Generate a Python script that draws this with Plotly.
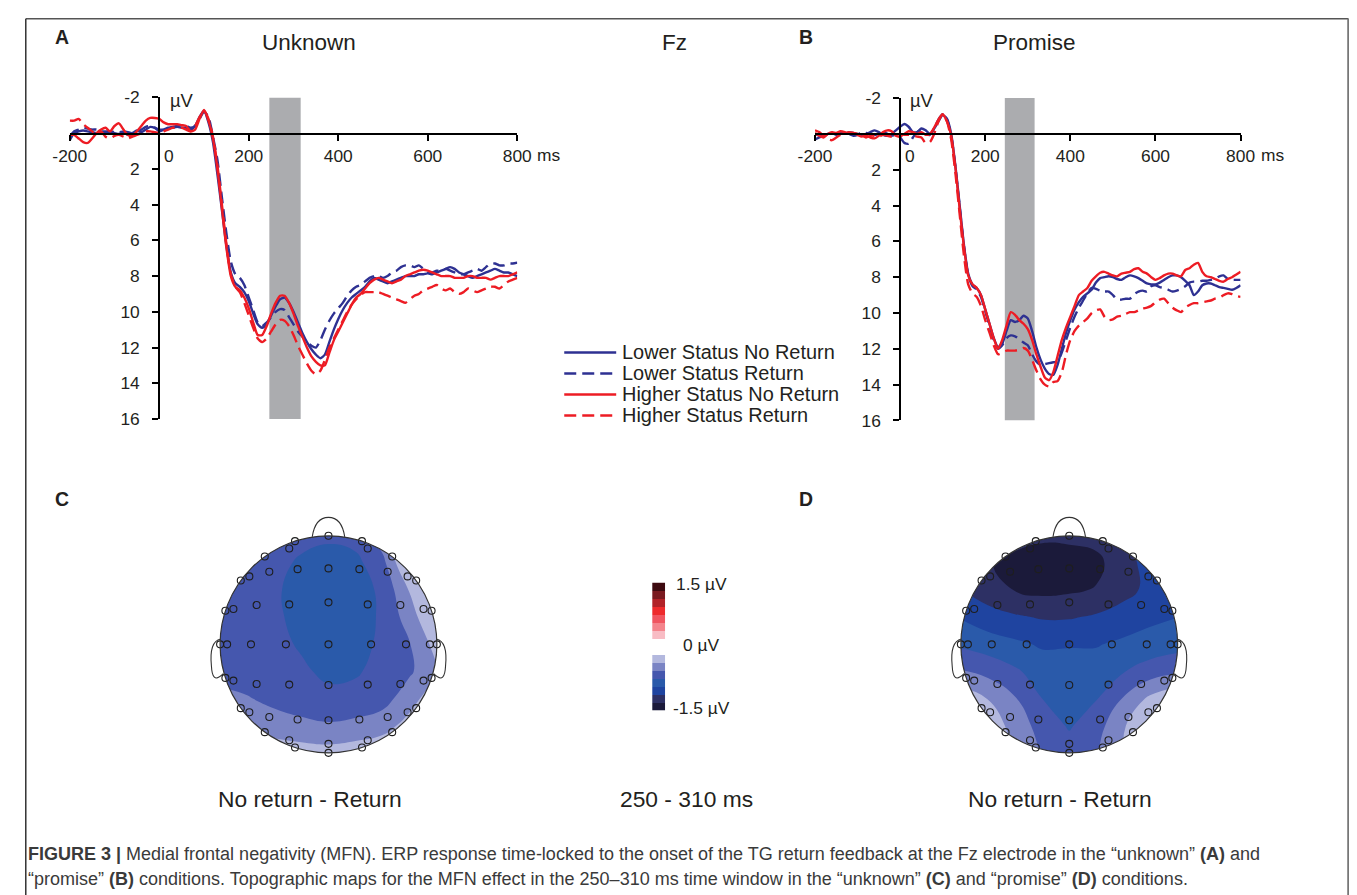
import numpy as np
import plotly.graph_objects as go

# Page placement: the figure sits inside an 8 px body margin and the capture is
# scaled by ~0.9775 with a small offset; target pixel T maps to figure pixel
# (T - B) / S - 8.  All positions below are given in target (reference) pixels.
S = 0.9775
BX, BY = 16.4, 8.8
OFF = 8
W, H = 1364, 899
def fx(t):
    return ((t - BX) / S - OFF) / W
def fy(t):
    return 1 - ((t - BY) / S - OFF) / H
def fs(size):
    return round(size / S, 2)

FONT = "Liberation Sans, Arial, Helvetica, sans-serif"
INK = "#231F20"
BLUE = "#2E3192"
RED = "#ED1C24"

# ---------------- ERP data (Fz, µV; positive plotted downward) ----------------
time_ms = list(range(-200, 801, 10))

a_lower_noreturn = [0.4, 0.0, -0.1, -0.15, -0.1, -0.05, 0.0, -0.05, 0.0, -0.05,
                    0.0, 0.05, -0.05, 0.1, 0.0, -0.15, -0.05, -0.2, -0.35, -0.3,
                    -0.2, -0.2, -0.3, -0.3, -0.35, -0.3, -0.3, -0.2, -0.4, -0.9,
                    -1.25, -0.6,
                    0.5, 2.3, 4.3, 6.3, 7.8, 8.4, 8.6, 8.9, 9.4,
                    10.1, 10.7, 10.9, 10.7, 10.2, 9.7, 9.3, 9.2, 9.5, 10.0,
                    10.6, 11.2, 11.7, 12.1, 12.4, 12.6, 12.4, 11.7, 11.0, 10.4,
                    9.9, 9.5, 9.2, 9.0, 8.8, 8.6, 8.3, 8.1, 8.2, 8.3,
                    8.4, 8.3, 8.2, 8.1, 8.0, 8.0, 8.0, 7.9, 7.9, 7.85,
                    7.9, 7.8, 7.7, 7.6, 7.5, 7.6, 7.8, 7.9, 8.0, 8.1,
                    8.0, 7.9, 7.8, 7.7, 7.6, 7.7, 7.8, 7.8, 7.9, 8.0]
a_lower_return = [0.2, -0.1, -0.2, -0.3, -0.25, -0.2, -0.2, -0.1, -0.1, -0.1,
                  -0.05, -0.05, -0.1, -0.05, 0.0, -0.1, -0.2, -0.35, -0.4, -0.3,
                  -0.1, -0.2, -0.3, -0.35, -0.4, -0.45, -0.4, -0.3, -0.4, -0.8,
                  -1.2, -0.9,
                  0.2, 1.5, 3.6, 5.6, 7.2, 7.9, 8.1, 8.5, 9.2,
                  9.9, 10.6, 10.8, 10.6, 10.3, 10.0, 9.85, 9.9, 10.3, 10.7,
                  11.1, 11.4, 11.7, 11.9, 12.0, 11.6, 11.0, 10.5, 10.1, 9.8,
                  9.5, 9.1, 8.8, 8.6, 8.5, 8.3, 8.1, 8.0, 8.0, 8.1,
                  8.0, 7.8, 7.7, 7.5, 7.4, 7.4, 7.5, 7.4, 7.6, 7.8,
                  7.8, 7.7, 7.7, 7.6, 7.7, 7.8, 7.9, 7.9, 7.8, 7.7,
                  7.6, 7.7, 7.5, 7.3, 7.3, 7.4, 7.4, 7.3, 7.3, 7.25]
a_higher_noreturn = [0.1, 0.1, 0.3, 0.5, 0.55, 0.3, 0.0, -0.2, -0.3, -0.1,
                     -0.4, -0.55, -0.2, 0.1, 0.15, -0.1, -0.4, -0.7, -0.85, -0.85,
                     -0.8, -0.6, -0.5, -0.5, -0.5, -0.45, -0.4, -0.1, -0.2, -0.8,
                     -1.3, -0.7,
                     0.3, 2.0, 4.2, 6.4, 8.0, 8.6, 8.8, 9.2, 9.8,
                     10.6, 11.3, 11.3, 10.8, 10.1, 9.5, 9.1, 9.1, 9.5, 10.1,
                     10.8, 11.4, 12.0, 12.5, 12.8, 13.0, 13.0, 12.3, 11.6, 11.1,
                     10.6, 10.1, 9.6, 9.2, 9.0, 8.7, 8.4, 8.2, 8.1, 8.2,
                     8.3, 8.4, 8.3, 8.2, 8.0, 7.9, 7.8, 7.7, 7.65, 7.7,
                     7.8, 7.9, 8.0, 8.0, 8.0, 8.1, 8.1, 8.1, 8.0, 8.0,
                     8.1, 8.1, 8.1, 8.2, 8.1, 8.0, 8.0, 8.0, 7.9, 7.8]
a_higher_return = [-0.7, -0.7, -0.8, -0.5, -0.3, -0.1, 0.1, -0.1, 0.2, 0.3,
                   0.15, 0.1, 0.2, 0.3, 0.2, 0.1, 0.0, -0.1, -0.1, -0.05,
                   0.0, -0.1, -0.2, -0.3, -0.3, -0.3, -0.2, -0.1, -0.4, -0.9,
                   -1.25, -0.8,
                   0.2, 1.8, 4.0, 6.2, 7.9, 8.6, 8.9, 9.5, 10.2,
                   10.9, 11.5, 11.7, 11.5, 11.1, 10.7, 10.45, 10.5, 10.8, 11.3,
                   11.9, 12.4, 12.9, 13.3, 13.5, 13.3, 12.7, 12.0, 11.5, 11.0,
                   10.5, 10.0, 9.6, 9.3, 9.05, 8.9, 8.9, 8.9, 8.9, 9.0,
                   9.1, 9.2, 9.3, 9.4, 9.5, 9.3, 9.1, 9.0, 8.8, 8.7,
                   8.6, 8.5, 8.7, 8.8, 8.7, 8.9, 9.0, 8.9, 8.7, 8.8,
                   8.9, 8.8, 8.7, 8.6, 8.6, 8.7, 8.5, 8.3, 8.2, 8.1]

b_lower_noreturn = [0.3, 0.2, 0.1, 0.0, -0.05, 0.0, -0.05, 0.0, -0.1, -0.05,
                    0.0, 0.05, 0.0, -0.1, -0.2, -0.1, 0.05, 0.1, 0.0, -0.2,
                    -0.4, -0.55, -0.4, -0.1, -0.1, -0.3, -0.2, 0.0, -0.3, -0.7,
                    -1.05, -0.85,
                    0.0, 1.8, 4.0, 6.2, 7.8, 8.4, 8.6, 9.0, 9.8,
                    10.6, 11.4, 11.9, 11.7, 11.0, 10.4, 10.5, 10.4, 10.15, 10.3,
                    11.0, 11.9, 12.6, 13.1, 13.4, 13.45, 12.9, 12.0, 11.1, 10.4,
                    9.8, 9.4, 9.1, 8.9, 8.7, 8.3, 8.05, 8.0, 7.95, 8.0,
                    8.1, 8.15, 8.0, 7.9, 7.95, 8.05, 8.2, 8.35, 8.4, 8.4,
                    8.3, 8.15, 8.0, 7.9, 7.9, 8.0, 8.2, 8.45, 9.0, 8.8,
                    8.45, 8.35, 8.35, 8.45, 8.55, 8.6, 8.65, 8.7, 8.6, 8.45]
b_lower_return = [0.0, 0.1, 0.15, 0.0, -0.05, 0.05, 0.0, -0.05, 0.0, 0.1,
                  0.05, -0.1, -0.05, 0.0, 0.05, 0.0, -0.1, 0.0, 0.1, 0.05,
                  0.2, 0.5, 0.55, 0.2, -0.1, -0.2, 0.0, 0.05, -0.3, -0.8,
                  -1.1, -0.8,
                  0.1, 1.9, 4.1, 6.3, 7.9, 8.5, 8.7, 9.1, 9.9,
                  10.7, 11.5, 12.0, 11.8, 11.4, 11.25, 11.3, 11.45, 11.65, 11.8,
                  12.3, 12.7, 12.9, 12.85, 12.8, 12.75, 12.7, 12.2, 11.5, 10.8,
                  10.2, 9.7, 9.3, 8.9, 8.6, 8.65, 8.75, 8.8, 8.8, 9.0,
                  9.25, 9.25, 9.2, 9.2, 8.95, 8.8, 8.75, 8.8, 8.5, 8.45,
                  8.55, 8.6, 8.7, 8.8, 8.75, 8.65, 8.5, 8.3, 8.25, 8.25,
                  8.2, 8.2, 8.15, 8.1, 7.95, 7.9, 8.1, 8.15, 8.15, 8.15]
b_higher_noreturn = [-0.05, 0.1, 0.2, 0.0, -0.1, -0.05, -0.15, -0.1, 0.0, -0.05,
                     0.05, 0.15, 0.1, 0.2, 0.25, 0.1, -0.1, -0.2, -0.15, 0.1,
                     0.15, 0.0, -0.15, -0.1, 0.0, -0.1, 0.05, 0.0, -0.35, -0.8,
                     -1.1, -0.7,
                     0.1, 1.9, 4.2, 6.3, 7.9, 8.4, 8.6, 9.0, 9.8,
                     10.6, 11.4, 12.0, 11.5, 10.7, 9.95, 10.1, 10.4, 10.6, 10.9,
                     11.5, 12.3, 13.0, 13.6, 13.75, 13.3, 12.4, 11.5, 10.8, 10.2,
                     9.6, 9.0, 8.8, 8.6, 8.2, 7.95, 7.75, 7.7, 7.8, 7.9,
                     7.95, 7.8, 7.75, 7.7, 7.55, 7.5, 7.7, 7.8, 8.0, 8.15,
                     8.05, 7.9, 7.8, 7.8, 7.9, 7.95, 7.6, 7.5, 7.3, 7.2,
                     7.7, 7.95, 8.0, 8.1, 8.2, 8.25, 8.1, 8.0, 7.85, 7.7]
b_higher_return = [-0.2, -0.1, 0.1, 0.3, 0.35, 0.2, 0.05, 0.0, -0.1, -0.05,
                   0.0, 0.05, 0.2, 0.1, 0.1, 0.15, 0.05, 0.1, 0.15, 0.05,
                   0.0, 0.05, 0.05, 0.1, 0.15, 0.2, 0.5, 0.45, 0.0, -0.7,
                   -1.1, -0.7,
                   0.3, 2.2, 4.5, 6.8, 8.4, 8.9, 9.1, 9.6, 10.4,
                   11.1, 11.8, 12.3, 12.2, 12.1, 12.1, 12.1, 12.05, 11.95, 12.1,
                   12.6, 13.2, 13.7, 14.0, 14.1, 13.85, 13.8, 13.3, 12.3, 11.5,
                   11.0, 10.7, 10.5, 10.3, 10.0, 9.85, 9.8, 10.2, 10.4, 10.35,
                   10.2, 10.15, 10.05, 9.95, 9.95, 9.85, 9.75, 9.7, 9.6, 9.4,
                   9.25, 9.2, 9.45, 9.7, 9.85, 9.95, 9.7, 9.55, 9.45, 9.45,
                   9.4, 9.35, 9.3, 9.2, 9.15, 9.0, 8.9, 8.95, 9.05, 9.1]

series_names = ["Lower Status No Return", "Lower Status Return",
                "Higher Status No Return", "Higher Status Return"]
series_colors = [BLUE, BLUE, RED, RED]
series_dash = ["solid", "12px,6px", "solid", "12px,6px"]
panel_a = [a_lower_noreturn, a_lower_return, a_higher_noreturn, a_higher_return]
panel_b = [b_lower_noreturn, b_lower_return, b_higher_noreturn, b_higher_return]
for s in panel_a + panel_b:
    assert len(s) == len(time_ms), len(s)

mfn_window_ms = [246, 316]
x_tickvals = [-200, 0, 200, 400, 600, 800]
x_ticktext = ["-200", "\u00a0\u00a0\u00a0\u00a00", "200", "400", "600", "800"]
y_tickvals = [-2, 2, 4, 6, 8, 10, 12, 14, 16]
y_ticktext = ["-2", "2", "4", "6", "8", "10", "12", "14", "16"]

# ---------------- Topographic maps (µV, No return - Return, 250-310 ms) ----------------
grid_pos = [-1.0, -0.75, -0.5, -0.25, 0.0, 0.25, 0.5, 0.75, 1.0]
# rows from bottom (y=-1, posterior) to top (y=1, frontal)
topo_unknown = [
    [-0.20, -0.22, -0.25, -0.28, -0.30, -0.27, -0.23, -0.15, -0.05],
    [-0.40, -0.43, -0.48, -0.52, -0.54, -0.51, -0.45, -0.30, -0.15],
    [-0.52, -0.55, -0.61, -0.65, -0.70, -0.69, -0.64, -0.45, -0.25],
    [-0.62, -0.65, -0.68, -0.72, -0.79, -0.77, -0.69, -0.59, -0.40],
    [-0.64, -0.67, -0.70, -0.77, -0.84, -0.82, -0.71, -0.57, -0.30],
    [-0.66, -0.68, -0.72, -0.80, -0.85, -0.84, -0.72, -0.47, -0.15],
    [-0.66, -0.68, -0.73, -0.80, -0.85, -0.84, -0.71, -0.36, -0.08],
    [-0.66, -0.67, -0.71, -0.77, -0.82, -0.80, -0.62, -0.12, -0.02],
    [-0.66, -0.67, -0.69, -0.71, -0.72, -0.68, -0.45, -0.10, -0.02],
]
topo_promise = [
    [-0.10, -0.20, -0.40, -0.58, -0.66, -0.58, -0.38, -0.10, -0.02],
    [-0.15, -0.25, -0.45, -0.64, -0.77, -0.64, -0.40, -0.12, -0.05],
    [-0.25, -0.38, -0.55, -0.75, -0.86, -0.76, -0.55, -0.33, -0.20],
    [-0.55, -0.62, -0.72, -0.84, -0.86, -0.85, -0.76, -0.66, -0.60],
    [-0.78, -0.84, -0.90, -0.96, -0.95, -0.95, -0.90, -0.86, -0.82],
    [-0.95, -1.05, -1.10, -1.14, -1.14, -1.10, -1.05, -0.98, -0.94],
    [-1.12, -1.22, -1.32, -1.36, -1.34, -1.30, -1.18, -1.08, -1.00],
    [-1.22, -1.30, -1.36, -1.40, -1.38, -1.36, -1.20, -1.05, -0.95],
    [-1.15, -1.20, -1.25, -1.28, -1.28, -1.25, -1.15, -1.00, -0.90],
]

# electrode layout (normalised head coordinates)
outer_ring_deg = list(range(0, 360, 18))
inner_x = [-0.935, -0.715, -0.393, 0.0, 0.393, 0.715, 0.935,
           -0.877, -0.663, -0.362, 0.0, 0.362, 0.663, 0.877,
           -0.877, -0.663, -0.362, 0.0, 0.362, 0.663, 0.877,
           -0.73, -0.546, -0.285, 0.0, 0.285, 0.546, 0.73,
           -0.73, -0.546, -0.285, 0.0, 0.285, 0.546, 0.73,
           -0.362, 0.362, -0.362, 0.362, 0.0]
inner_y = [0.0] * 7 + \
          [0.325, 0.362, 0.368, 0.387, 0.368, 0.362, 0.325] + \
          [-0.334, -0.365, -0.371, -0.374, -0.371, -0.365, -0.334] + \
          [0.626, 0.669, 0.693, 0.70, 0.693, 0.669, 0.626] + \
          [-0.626, -0.669, -0.693, -0.70, -0.693, -0.669, -0.626] + \
          [0.883, 0.883, -0.883, -0.883, -0.917]

# colour bands: 0.1875 µV steps from -1.5 to 1.5
level_start, level_end, level_step = -1.5, 1.5, 0.1875
blues = ["#1B1A3A", "#2D3064", "#1F44A0", "#2A5AAA", "#4557AE", "#7A84C4", "#B3B8DE"]
reds = ["#F8BCC4", "#F4848C", "#F05560", "#EE2A2C", "#B22228", "#7A1A20", "#3D0A10"]
band_colors = [blues[0]] + blues + ["#FFFFFF", "#FFFFFF"] + reds + [reds[-1]]
nb = len(band_colors) - 1
band_scale = []
for j, c in enumerate(band_colors):
    band_scale.append([max(0.0, (j - 0.4) / nb), c])
    band_scale.append([min(1.0, (j + 0.4) / nb), c])
zlo = level_start - level_step / 2
zhi = level_end + level_step / 2
colorbar_levels = [level_start + (k + 0.5) * level_step for k in range(16)]

fig = go.Figure()

# ---------------- ERP panels ----------------
for vals_list, xa, ya in [(panel_a, "x", "y"), (panel_b, "x2", "y2")]:
    for name, vals, col, dash in zip(series_names, vals_list, series_colors, series_dash):
        fig.add_trace(go.Scatter(
            x=time_ms, y=vals, xaxis=xa, yaxis=ya, mode="lines", name=name,
            line=dict(color=col, width=2.4, dash=dash, shape="spline", smoothing=0.6),
            showlegend=False, hoverinfo="skip"))

# ---------------- Topo maps ----------------
R_AX = 1.3
theta = np.linspace(np.deg2rad(225), np.deg2rad(225) + 2 * np.pi, 241)
mask_x = [-R_AX, -R_AX, R_AX, R_AX, -R_AX] + list(np.cos(theta)) + [-R_AX]
mask_y = [-R_AX, R_AX, R_AX, -R_AX, -R_AX] + list(np.sin(theta)) + [-R_AX]
ring_x = [float(np.cos(np.deg2rad(a))) for a in outer_ring_deg]
ring_y = [float(np.sin(np.deg2rad(a))) for a in outer_ring_deg]

for z, xa, ya in [(topo_unknown, "x3", "y3"), (topo_promise, "x4", "y4")]:
    fig.add_trace(go.Contour(
        x=grid_pos, y=grid_pos, z=z, xaxis=xa, yaxis=ya,
        autocontour=False,
        contours=dict(start=level_start, end=level_end, size=level_step,
                      coloring="fill", showlines=False),
        line=dict(width=0, smoothing=1.3),
        colorscale=band_scale, zmin=zlo, zmax=zhi, showscale=False,
        hoverinfo="skip"))
    fig.add_trace(go.Scatter(
        x=mask_x, y=mask_y, xaxis=xa, yaxis=ya, mode="lines", fill="toself",
        fillcolor="white", line=dict(width=0, color="white"),
        showlegend=False, hoverinfo="skip"))
    fig.add_trace(go.Scatter(
        x=ring_x + inner_x, y=ring_y + inner_y, xaxis=xa, yaxis=ya, mode="markers",
        marker=dict(symbol="circle-open", size=7, color="#1E1E1E", line=dict(width=1.1)),
        showlegend=False, hoverinfo="skip"))

# ---------------- Colour bar ----------------
fig.add_trace(go.Heatmap(
    x=[0], y=colorbar_levels, z=[[v] for v in colorbar_levels],
    xaxis="x5", yaxis="y5", colorscale=band_scale, zmin=zlo, zmax=zhi,
    showscale=False, hoverinfo="skip"))

# ---------------- Axes ----------------
def erp_axes(x0, x1, y_top, y_bot, x_zero_px, y_zero_px):
    xa = dict(domain=[fx(x0), fx(x1)], range=[-200, 800], anchor="free",
              position=fy(y_zero_px), showline=True, linecolor="black", linewidth=2,
              ticks="outside", ticklen=6, tickwidth=2, tickcolor="black",
              tickvals=x_tickvals, ticktext=x_ticktext,
              tickfont=dict(family=FONT, size=fs(17), color=INK),
              ticklabelstandoff=0, showgrid=False, zeroline=False, fixedrange=True)
    ya = dict(domain=[fy(y_bot), fy(y_top)], range=[16, -2], anchor="free",
              position=fx(x_zero_px), showline=True, linecolor="black", linewidth=2,
              ticks="outside", ticklen=6, tickwidth=2, tickcolor="black",
              tickvals=y_tickvals, ticktext=y_ticktext,
              tickfont=dict(family=FONT, size=fs(17), color=INK),
              ticklabelstandoff=9, showgrid=False, zeroline=False, fixedrange=True)
    return xa, ya

xa1, ya1 = erp_axes(69, 517, 96, 417.5, 158.6, 132.5)
xa2, ya2 = erp_axes(815, 1241, 96.7, 419, 900.5, 132.5)

def hidden(dom, rng):
    return dict(domain=dom, range=rng, visible=False, showgrid=False,
                zeroline=False, fixedrange=True)

RPX = 108.5
c_cx, d_cx, t_cy = 328.0, 1069.5, 642.8
half = R_AX * RPX

fig.update_layout(
    width=W, height=H, margin=dict(l=0, r=0, t=0, b=0),
    paper_bgcolor="white", plot_bgcolor="white", showlegend=False,
    font=dict(family=FONT, color=INK),
    xaxis=xa1, yaxis=ya1, xaxis2=xa2, yaxis2=ya2,
    xaxis3=hidden([fx(c_cx - half), fx(c_cx + half)], [-R_AX, R_AX]),
    yaxis3=hidden([fy(t_cy + half), fy(t_cy - half)], [-R_AX, R_AX]),
    xaxis4=hidden([fx(d_cx - half), fx(d_cx + half)], [-R_AX, R_AX]),
    yaxis4=hidden([fy(t_cy + half), fy(t_cy - half)], [-R_AX, R_AX]),
    xaxis5=hidden([fx(652), fx(665)], [-0.5, 0.5]),
    yaxis5=hidden([fy(709), fy(581)], [-1.5, 1.5]),
)

shapes = []
# MFN window shading
for xr, yr in [("x", "y"), ("x2", "y2")]:
    shapes.append(dict(type="rect", xref=xr, yref=yr, x0=mfn_window_ms[0], x1=mfn_window_ms[1],
                       y0=-2, y1=16, fillcolor="#ABACAF", line=dict(width=0), layer="below"))
# head outlines
nose = "M -0.15,0.99 C -0.13,1.12 -0.08,1.17 0,1.17 C 0.08,1.17 0.13,1.12 0.15,0.99"
ear_l = "M -0.995,0.05 C -1.09,0.03 -1.09,-0.1 -1.08,-0.2 C -1.075,-0.3 -1.05,-0.35 -0.97,-0.27"
ear_r = "M 0.995,0.05 C 1.09,0.03 1.09,-0.1 1.08,-0.2 C 1.075,-0.3 1.05,-0.35 0.97,-0.27"
for xr, yr in [("x3", "y3"), ("x4", "y4")]:
    shapes.append(dict(type="circle", xref=xr, yref=yr, x0=-1, y0=-1, x1=1, y1=1,
                       line=dict(color="#333333", width=1.2)))
    for p in (nose, ear_l, ear_r):
        shapes.append(dict(type="path", xref=xr, yref=yr, path=p,
                           line=dict(color="#333333", width=1.1)))
# legend samples
legend_rows_px = [351, 372, 393, 414]
for yy, col, dash in zip(legend_rows_px, series_colors, series_dash):
    shapes.append(dict(type="line", xref="paper", yref="paper", x0=fx(564), x1=fx(616),
                       y0=fy(yy), y1=fy(yy), line=dict(color=col, width=2.4, dash=dash)))
# frame (top, left, right) - as close to the reference frame as the page allows
top_y = min(1 - 0.8 / H, fy(8))
left_x = max(0.8 / W, fx(8))
shapes.append(dict(type="line", xref="paper", yref="paper", x0=left_x, x1=fx(1349),
                   y0=top_y, y1=top_y, line=dict(color="#555555", width=1.5)))
shapes.append(dict(type="line", xref="paper", yref="paper", x0=left_x, x1=left_x,
                   y0=top_y, y1=0, line=dict(color="#333333", width=1.5)))
shapes.append(dict(type="line", xref="paper", yref="paper", x0=fx(1349), x1=fx(1349),
                   y0=top_y, y1=0, line=dict(color="#777777", width=2.5)))
fig.update_layout(shapes=shapes)

ann = []
def text(x, y, s, size, xanchor="center", bold=False, color=INK):
    ann.append(dict(x=fx(x), y=fy(y), xref="paper", yref="paper", text=(f"<b>{s}</b>" if bold else s),
                    showarrow=False, xanchor=xanchor, yanchor="middle",
                    font=dict(family=FONT, size=fs(size), color=color)))

text(61, 36, "A", 19, bold=True)
text(806, 36, "B", 19, bold=True)
text(61, 497, "C", 19, bold=True)
text(806, 497, "D", 19, bold=True)
text(308, 41, "Unknown", 22)
text(674, 41, "Fz", 22)
text(1035, 41, "Promise", 22)
text(181, 99, "µV", 18)
text(922, 99, "µV", 18)
text(535, 154, "ms", 17, xanchor="left")
text(1259, 154, "ms", 17, xanchor="left")
for yy, name in zip(legend_rows_px, series_names):
    text(620, yy, name, 19.5, xanchor="left")
text(701, 582, "1.5 µV", 17)
text(701, 643, "0 µV", 17)
text(701, 706, "-1.5 µV", 17)
text(310, 797, "No return - Return", 22.3)
text(686, 797, "250 - 310 ms", 22.3)
text(1060, 797, "No return - Return", 22.3)
cap1 = ("<b>FIGURE 3 |</b> Medial frontal negativity (MFN). ERP response time-locked to the onset "
        "of the TG return feedback at the Fz electrode in the \u201cunknown\u201d <b>(A)</b> and")
cap2 = ("\u201cpromise\u201d <b>(B)</b> conditions. Topographic maps for the MFN effect in the "
        "250\u2013310 ms time window in the \u201cunknown\u201d <b>(C)</b> and \u201cpromise\u201d "
        "<b>(D)</b> conditions.")
text(25, 852, cap1, 17.6, xanchor="left", color="#3A3A3A")
text(25, 877, cap2, 17.6, xanchor="left", color="#3A3A3A")
fig.update_layout(annotations=ann)

fig.write_html("out.html")
